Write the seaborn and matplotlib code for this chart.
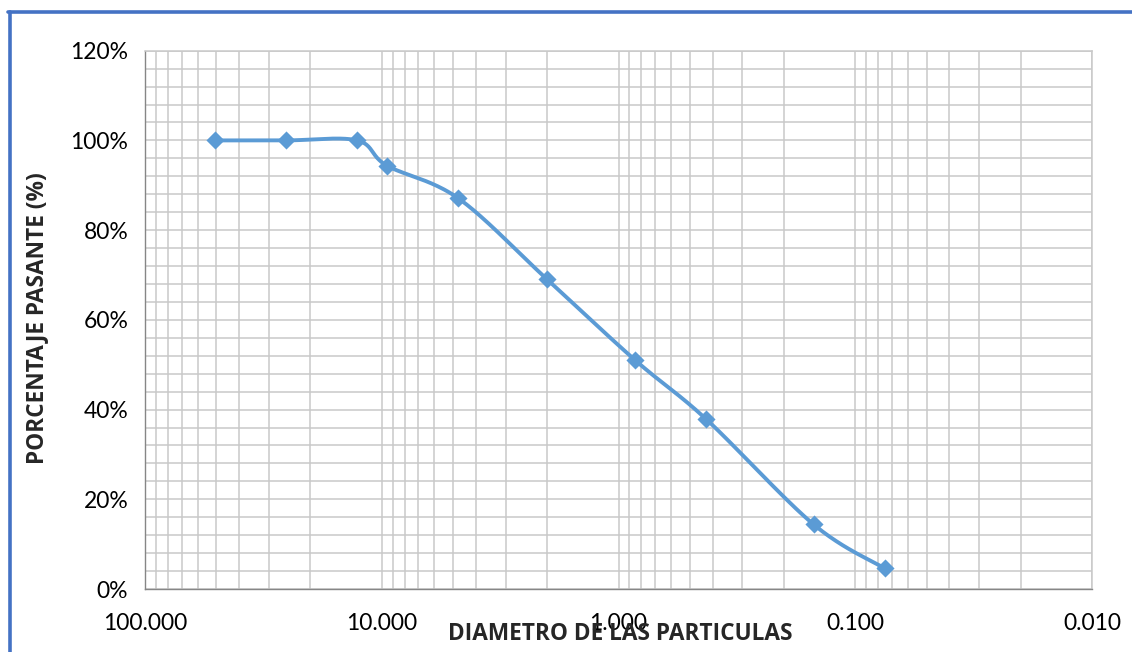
import numpy as np
import pandas as pd
import matplotlib
matplotlib.use("Agg")
import matplotlib.pyplot as plt
import matplotlib.ticker as mticker
from matplotlib.lines import Line2D
import seaborn as sns

# sieve openings (mm) and percent passing
diametro = [50.8, 25.4, 12.7, 9.525, 4.75, 2.00, 0.85, 0.425, 0.15, 0.075]
pasante = [1.000, 1.000, 1.000, 0.944, 0.871, 0.690, 0.510, 0.378, 0.144, 0.046]

x_ticks = [100, 10, 1, 0.1, 0.01]
y_ticks = [0.0, 0.2, 0.4, 0.6, 0.8, 1.0, 1.2]

LINE = "#5B9BD5"
GRID = "#C9C9C9"


def smooth_curve(xs, ys, n=40):
    # Excel-like smoothed line: Catmull-Rom as cubic Bezier, in log-x space
    lx = np.log10(np.asarray(xs, float))
    y = np.asarray(ys, float)
    P = np.column_stack([lx, y])
    pts = []
    t = np.linspace(0, 1, n)[:, None]
    for i in range(len(P) - 1):
        p0 = P[i - 1] if i > 0 else P[i]
        p3 = P[i + 2] if i + 2 < len(P) else P[i + 1]
        b0, b3 = P[i], P[i + 1]
        b1 = b0 + (P[i + 1] - p0) / 6
        b2 = b3 - (p3 - P[i]) / 6
        seg = ((1 - t) ** 3) * b0 + 3 * ((1 - t) ** 2) * t * b1 \
            + 3 * (1 - t) * t ** 2 * b2 + t ** 3 * b3
        pts.append(seg if i == 0 else seg[1:])
    pts = np.vstack(pts)
    return pd.DataFrame({"d": 10 ** pts[:, 0], "p": pts[:, 1], "o": np.arange(len(pts))})


sns.set_style("white")
plt.rcParams["font.family"] = ["Lato", "DejaVu Sans"]
BOLD_FONT = ["Open Sans", "DejaVu Sans"]

fig = plt.figure(figsize=(11.32, 6.52), dpi=100)
ax = fig.add_axes([145 / 1132, 1 - 589 / 652, (1092 - 145) / 1132, (589 - 50.7) / 652])

curve = smooth_curve(diametro, pasante)
sns.lineplot(data=curve, x="d", y="p", sort=False, color=LINE, linewidth=2.8,
             ax=ax, zorder=3)
sns.scatterplot(x=diametro, y=pasante, marker="D", s=85, color=LINE,
                edgecolor=LINE, linewidth=0, ax=ax, zorder=4)

ax.set_xscale("log")
ax.set_xlim(100, 0.01)
ax.set_ylim(0, 1.2)
ax.set_xticks(x_ticks)
ax.xaxis.set_major_formatter(mticker.FuncFormatter(lambda v, _: f"{v:.3f}"))
ax.xaxis.set_minor_locator(mticker.LogLocator(base=10, subs=np.arange(2, 10)))
ax.xaxis.set_minor_formatter(mticker.NullFormatter())
ax.set_yticks(y_ticks)
ax.yaxis.set_major_formatter(mticker.PercentFormatter(1.0, decimals=0))
ax.yaxis.set_minor_locator(mticker.MultipleLocator(0.04))

ax.grid(True, which="both", color=GRID, linewidth=1.1)
ax.set_axisbelow(True)
for s in ["top", "right"]:
    ax.spines[s].set_color(GRID)
    ax.spines[s].set_linewidth(1.1)
for s in ["left", "bottom"]:
    ax.spines[s].set_color("#868686")
    ax.spines[s].set_linewidth(1.0)

ax.tick_params(axis="both", which="major", length=8, width=1, color="#868686",
               labelsize=16.5, labelcolor="black", pad=4)
ax.tick_params(axis="both", which="minor", length=0)
ax.tick_params(axis="x", which="major", pad=9)

ax.set_xlabel("")
ax.set_ylabel("")
fig.text(620 / 1132, 1 - 634 / 652, "DIAMETRO DE LAS PARTICULAS",
         ha="center", va="center", fontsize=16.3, fontweight="bold", family=BOLD_FONT)
fig.text(37 / 1132, 1 - 318 / 652, "PORCENTAJE PASANTE (%)", rotation=90,
         ha="center", va="center", fontsize=16.3, fontweight="bold", family=BOLD_FONT)

# blue chart-area frame
border = "#4472C4"
fig.add_artist(Line2D([9.5 / 1132, 9.5 / 1132], [0, 1 - 11.5 / 652],
                      transform=fig.transFigure, color=border, linewidth=2.6))
fig.add_artist(Line2D([8 / 1132, 1], [1 - 11.5 / 652, 1 - 11.5 / 652],
                      transform=fig.transFigure, color=border, linewidth=2.6))

fig.savefig("out.png", dpi=100)
